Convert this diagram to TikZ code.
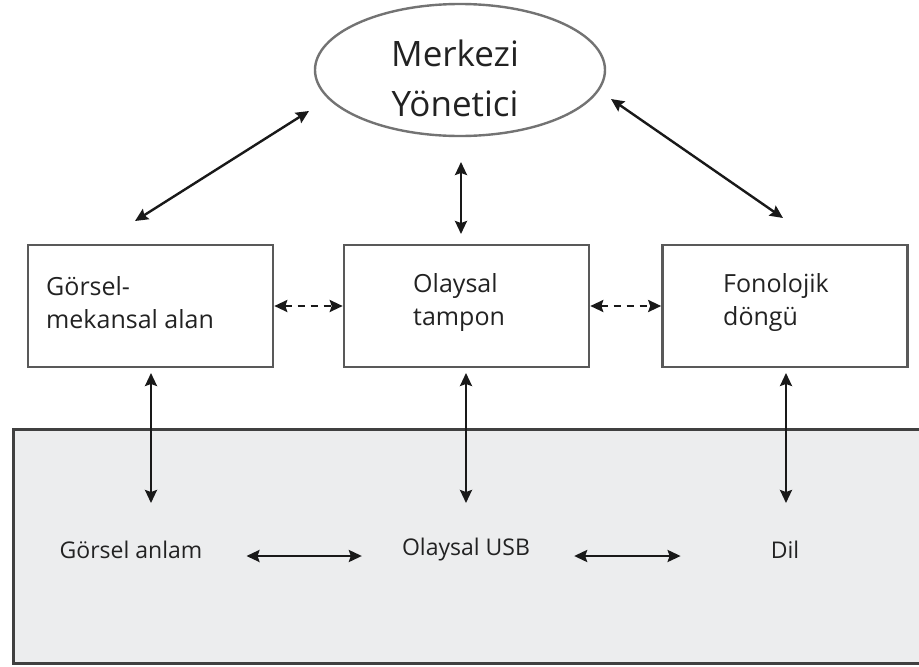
\documentclass[tikz,border=0pt]{standalone}
\usepackage{fontspec}
\setmainfont{Open Sans}
\usetikzlibrary{arrows.meta,shapes.geometric}
\definecolor{memgray}{HTML}{ECEDEE}
\definecolor{txt}{HTML}{222222}
\begin{document}
\begin{tikzpicture}[x=1pt,y=-1pt,
  boxst/.style={draw=black!65, line width=2.6pt, minimum width=245pt, minimum height=122pt, inner sep=0pt},
  lbl/.style={text=txt, font=\fontsize{25}{33}\selectfont, align=left, anchor=west, inner sep=0pt},
  blbl/.style={text=txt, font=\fontsize{23}{28}\selectfont, inner sep=0pt},
  arr/.style={{Stealth[length=13pt,width=12pt,inset=2pt]}-{Stealth[length=13pt,width=12pt,inset=2pt]}, line width=2.4pt, black!90},
  darr/.style={arr, dash pattern=on 7pt off 6pt}
]
\useasboundingbox (0,0) rectangle (919,667);
% long-term memory area
\node[draw=black!75, fill=memgray, line width=2.6pt, minimum width=930pt, minimum height=234pt, anchor=north west, inner sep=0pt] (ltm) at (12,428) {};
% central executive
\node[ellipse, draw=black!55, line width=2.4pt, minimum width=290pt, minimum height=132pt, inner sep=0pt] (ce) at (460,70) {};
\node[text=txt, font=\fontsize{35}{50}\selectfont, align=center, inner sep=0pt] (cet) at (455,78) {Merkezi\\Yönetici};
% boxes
\node[boxst] (vs) at (150.5,306) {};
\node[boxst] (eb) at (466.5,306) {};
\node[boxst] (pl) at (785,306) {};
\node[lbl] (vst) at (46,303) {Görsel-\\mekansal alan};
\node[lbl] (ebt) at (413,303) {Olaysal\\tampon};
\node[lbl] (plt) at (723,303) {Fonolojik\\döngü};
% bottom labels
\node[blbl] (ga) at (131,550) {Görsel anlam};
\node[blbl] (ou) at (466,550) {Olaysal USB};
\node[blbl] (dil) at (785,550) {Dil};
% connector endpoints
\coordinate (ceL) at (309,111);
\coordinate (vsT) at (135,221);
\coordinate (ceR) at (611,99);
\coordinate (plT) at (783,218);
\coordinate (ceB) at (461,162);
\coordinate (ebT) at (461,234);
\coordinate (vsB) at (151,373);
\coordinate (gaT) at (151,503);
\coordinate (ebB) at (466,373);
\coordinate (ouT) at (466,503);
\coordinate (plB) at (786,373);
\coordinate (dilT) at (786,503);
% connectors
\draw[arr] (ceL) -- (vsT);
\draw[arr] (ceR) -- (plT);
\draw[arr] (ceB) -- (ebT);
\draw[darr] (vs.east) -- (eb.west);
\draw[darr] (eb.east) -- (pl.west);
\draw[arr] (vsB) -- (gaT);
\draw[arr] (ebB) -- (ouT);
\draw[arr] (plB) -- (dilT);
\draw[arr] ([xshift=44pt,yshift=-6pt]ga.east) -- ([xshift=-40pt,yshift=-6pt]ou.west);
\draw[arr] ([xshift=44pt,yshift=-6pt]ou.east) -- ([xshift=-90pt,yshift=-6pt]dil.west);
\end{tikzpicture}
\end{document}
